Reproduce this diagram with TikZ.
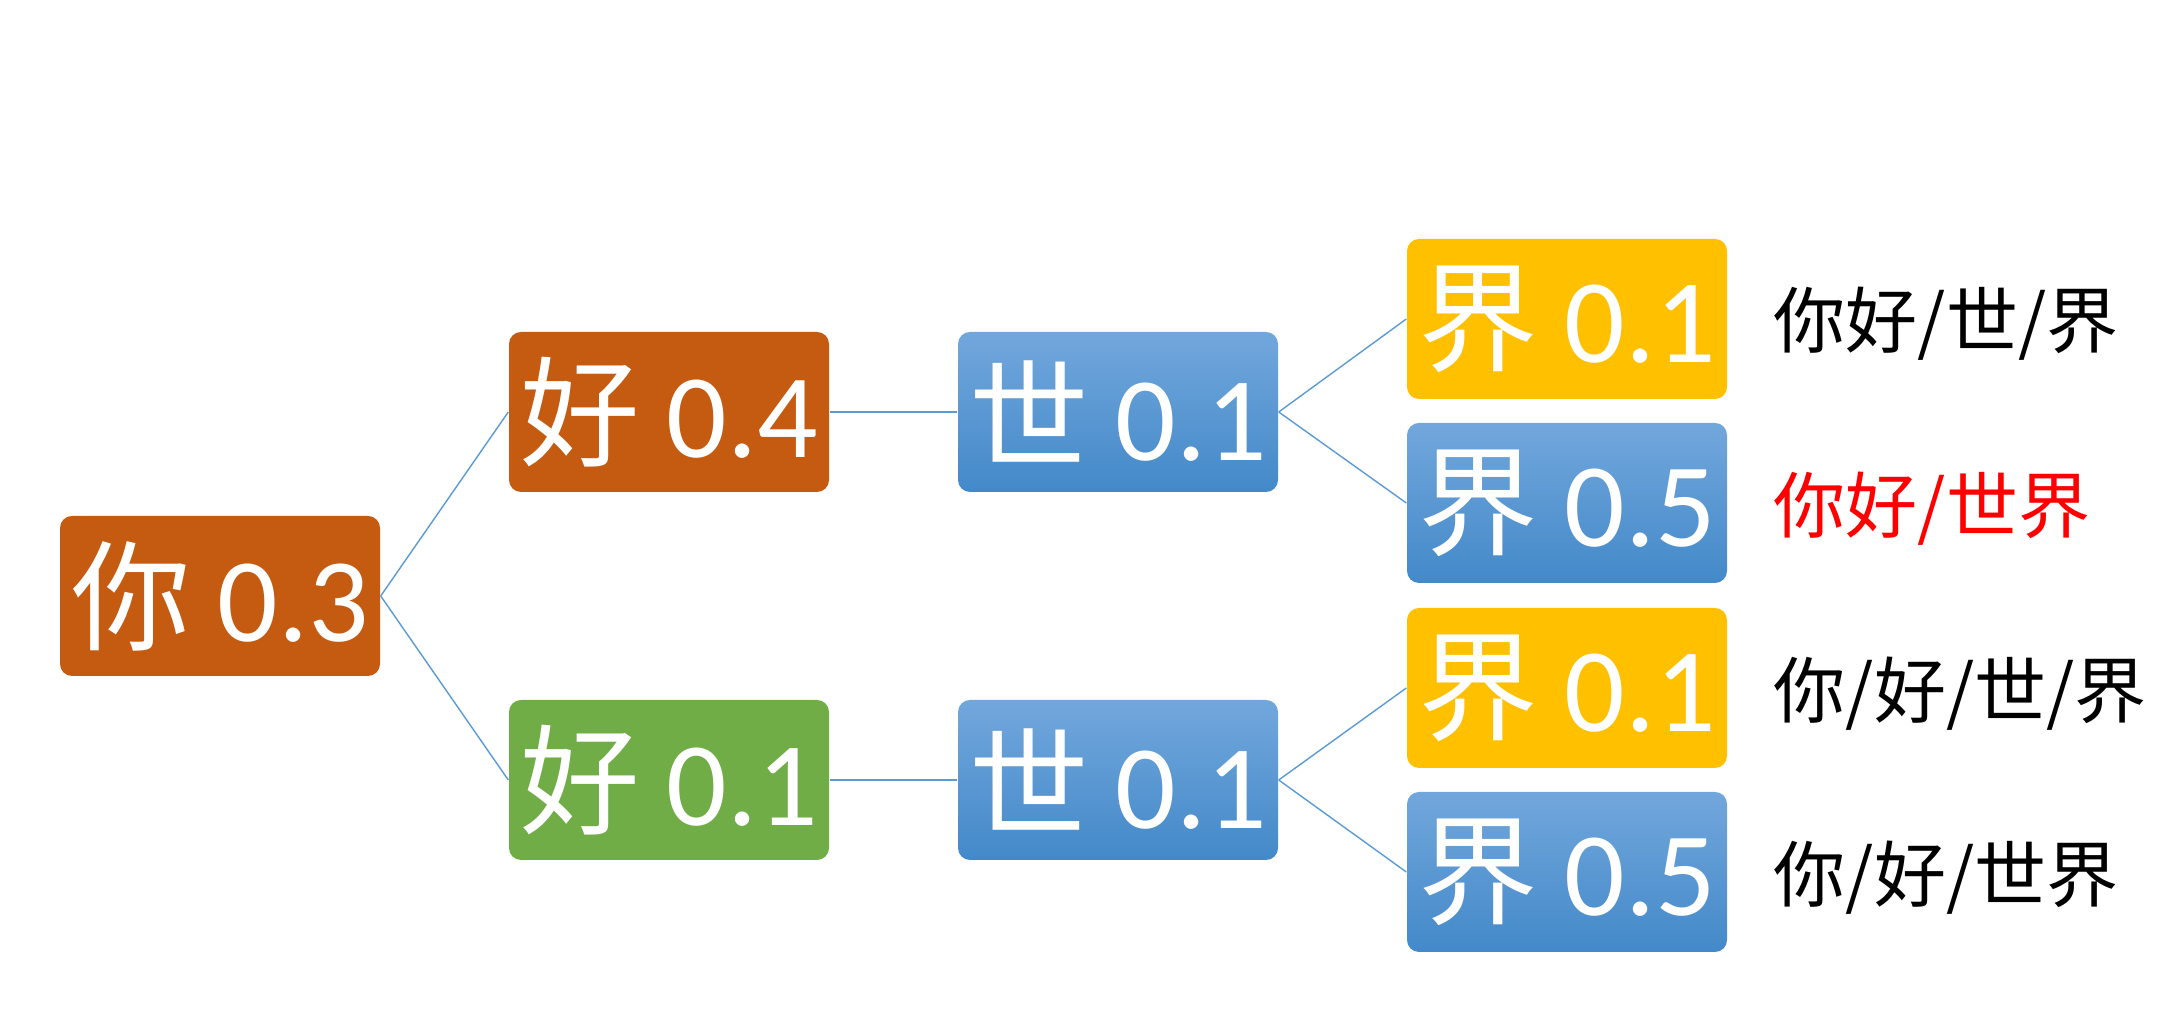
\documentclass[tikz,border=0pt]{standalone}
\usepackage{fontspec}
\setmainfont{Carlito}
\newfontfamily\cjk{Noto Sans CJK SC}
\definecolor{rust}{HTML}{C55A11}
\definecolor{leaf}{HTML}{70AD47}
\definecolor{gold}{HTML}{FFC000}
\definecolor{skytop}{HTML}{72A7DC}
\definecolor{skybot}{HTML}{4389C9}
\definecolor{wire}{HTML}{5B9BD5}
\tikzset{
  tok/.style={rounded corners=1.2mm, minimum width=3.2cm, minimum height=1.6cm, inner sep=0pt, text=white, font=\fontsize{34}{40}\selectfont},
  skytok/.style={tok, top color=skytop, bottom color=skybot},
  seg/.style={anchor=west, inner sep=0pt, font=\cjk\fontsize{20.5}{24}\selectfont},
  link/.style={wire, line width=0.4pt}
}
\begin{document}
\begin{tikzpicture}
      \useasboundingbox (0,0) rectangle (21.8,10.14);
      % first character
      \node[tok, fill=rust] (ni) at (2.20,4.18) {{\cjk 你} 0.3};
      % second character
      \node[tok, fill=rust] (haoA) at (6.69,6.02) {{\cjk 好} 0.4};
      \node[tok, fill=leaf] (haoB) at (6.69,2.34) {{\cjk 好} 0.1};
      % third character
      \node[skytok] (shiA) at (11.18,6.02) {{\cjk 世} 0.1};
      \node[skytok] (shiB) at (11.18,2.34) {{\cjk 世} 0.1};
      % fourth character
      \node[tok, fill=gold] (jieA) at (15.67,6.95) {{\cjk 界} 0.1};
      \node[skytok] (jieB) at (15.67,5.11) {{\cjk 界} 0.5};
      \node[tok, fill=gold] (jieC) at (15.67,3.26) {{\cjk 界} 0.1};
      \node[skytok] (jieD) at (15.67,1.42) {{\cjk 界} 0.5};
      % segmentations
      \node[seg] (segA) at (17.73,6.90) {你好/世/界};
      \node[seg, text=red] (segB) at (17.73,5.05) {你好/世界};
      \node[seg] (segC) at (17.73,3.20) {你/好/世/界};
      \node[seg] (segD) at (17.73,1.36) {你/好/世界};

      \draw[link] (ni.east) -- (haoA.west);
      \draw[link] (ni.east) -- (haoB.west);
      \draw[link] (haoA.east) -- (shiA.west);
      \draw[link] (haoB.east) -- (shiB.west);
      \draw[link] (shiA.east) -- (jieA.west);
      \draw[link] (shiA.east) -- (jieB.west);
      \draw[link] (shiB.east) -- (jieC.west);
      \draw[link] (shiB.east) -- (jieD.west);
    \end{tikzpicture}
\end{document}
